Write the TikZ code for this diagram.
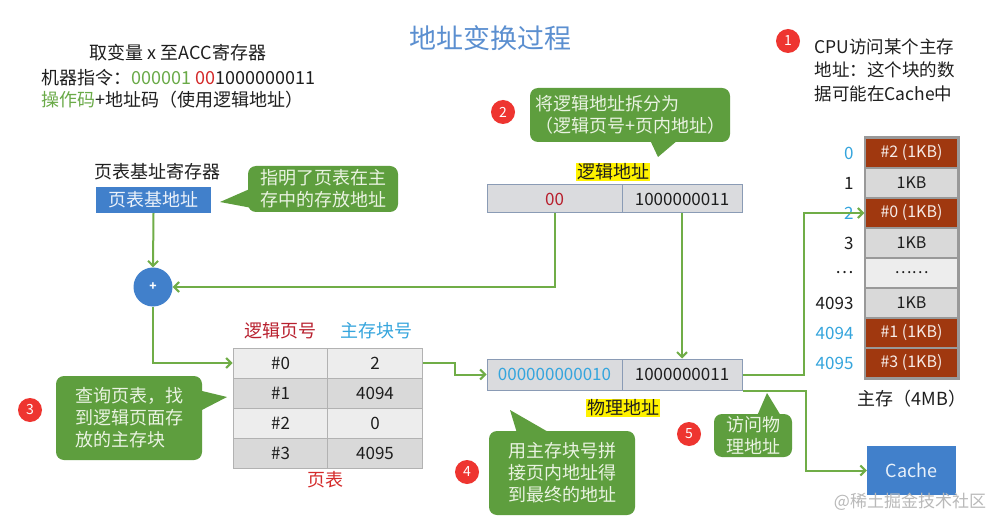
\documentclass[tikz,border=0pt]{standalone}
\usepackage{fontspec}
\setmainfont{Noto Sans CJK SC}
\usetikzlibrary{arrows.meta,positioning}

\definecolor{ttlblue}{HTML}{5B8FD0}
\definecolor{boxblue}{HTML}{4180CB}
\definecolor{lngreen}{HTML}{70AD47}
\definecolor{txgreen}{HTML}{6AAA48}
\definecolor{callgreen}{HTML}{5E9E3E}
\definecolor{calltext}{HTML}{EAF3E2}
\definecolor{numred}{HTML}{D42A2A}
\definecolor{darkred}{HTML}{B8202E}
\definecolor{numblue}{HTML}{35A5DD}
\definecolor{memred}{HTML}{A0380F}
\definecolor{cellgray}{HTML}{D9D9D9}
\definecolor{celllight}{HTML}{EDEDED}
\definecolor{addrgray}{HTML}{DADBDE}
\definecolor{addrline}{HTML}{8A9BB5}
\definecolor{stepred}{HTML}{EE3530}
\definecolor{txtblack}{HTML}{1E1E1E}

\begin{document}
\begin{tikzpicture}[
        x=1pt, y=-1pt,
        every node/.style={text=txtblack, font=\fontsize{18}{22}\selectfont},
        arr/.style={draw=lngreen, line width=2pt, -{Straight Barb[length=5pt,width=10pt]}},
        callbox/.style={fill=callgreen, rounded corners=8pt, text=calltext, align=left, inner sep=0pt},
        stepdot/.style={circle, fill=stepred, text=white, minimum size=24pt, inner sep=0pt, font=\fontsize{14}{14}\selectfont},
        addrcell/.style={draw=addrline, fill=addrgray, line width=1pt, minimum height=28pt, inner sep=0pt, font=\fontsize{17}{17}\selectfont},
        ptcell/.style={draw=gray!60, line width=1pt, minimum width=95pt, minimum height=30pt, inner sep=0pt, font=\fontsize{17}{17}\selectfont},
        memcell/.style={draw=gray!80, line width=1.5pt, minimum width=93pt, minimum height=30pt, inner sep=0pt, font=\fontsize{16}{16}\selectfont},
        hilite/.style={fill=yellow, inner sep=1pt}
    ]
    \fill[white] (0,0) rectangle (1008,529);
    \useasboundingbox (0,0) rectangle (1008,529);

    \node[text=ttlblue, font=\fontsize{27}{27}\selectfont] (title) at (490,38) {地址变换过程};

    % instruction
    \node (instr) at (178,53) {取变量 x 至ACC寄存器};
    \node[anchor=west] (code) at (38,78) {机器指令：\textcolor{txgreen}{000001} \textcolor{numred}{00}1000000011};
    \node[anchor=west] (opnote) at (38,100) {\textcolor{txgreen}{操作码}+地址码（使用逻辑地址）};

    \node[stepdot] (s1) at (788,41) {1};
    \node[stepdot] (s2) at (503,112) {2};
    \node[stepdot] (s3) at (30,410) {3};
    \node[stepdot] (s4) at (467,472) {4};
    \node[stepdot] (s5) at (689,434) {5};

    \node[anchor=west, align=left, font=\fontsize{17.5}{23.5}\selectfont] (cpunote) at (811,70) {CPU访问某个主存\\地址：这个块的数\\据可能在Cache中};

    % logical address
    \node[callbox, minimum width=200pt, minimum height=54pt] (splitnote) at (630,115) {将逻辑地址拆分为\\（逻辑页号+页内地址）};
    \fill[callgreen] (650,140) -- (658,157) -- (678,140) -- cycle;
    \node[hilite] (lalabel) at (613,172) {逻辑地址};
    \node[addrcell, minimum width=135pt, text=darkred] (laL) at (554.5,199) {00};
    \node[addrcell, minimum width=120pt] (laR) at (682,199) {1000000011};

    % page table base register
    \node (ptbrlabel) at (157,172) {页表基址寄存器};
    \node[fill=boxblue, text=white!90!boxblue, minimum width=115pt, minimum height=26pt, inner sep=0pt] (ptbr) at (153.5,200) {页表基地址};
    \node[callbox, minimum width=150pt, minimum height=46pt] (basenote) at (323,189) {指明了页表在主\\存中的存放地址};
    \fill[callgreen] (252,188) -- (220,202) -- (252,208) -- cycle;
    \node[circle, fill=boxblue, minimum size=39pt, inner sep=0pt, text=white, font=\fontsize{12}{12}\selectfont\bfseries] (plus) at (153,287) {+};

    % page table
    \node[text=darkred] (pthead1) at (280,331) {逻辑页号};
    \node[text=numblue] (pthead2) at (376,331) {主存块号};
    \foreach \pg/\fr/\fl [count=\i from 0] in {0/2/celllight, 1/4094/cellgray, 2/0/celllight, 3/4095/cellgray} {
        \node[ptcell, fill=\fl] (ptL\i) at (280.5,{363+30*\i}) {\#\pg};
        \node[ptcell, fill=\fl] (ptR\i) at (375,{363+30*\i}) {\fr};
    }
    \node[text=numred] (ptcaption) at (325,480) {页表};
    \node[callbox, minimum width=146pt, minimum height=84pt] (lookupnote) at (129,418) {查询页表，找\\到逻辑页面存\\放的主存块};
    \fill[callgreen] (198,390) -- (227,397) -- (198,412) -- cycle;

    % physical address
    \node[addrcell, minimum width=135pt, minimum height=31pt, text=numblue] (paL) at (554.5,374.5) {000000000010};
    \node[addrcell, minimum width=120pt, minimum height=31pt] (paR) at (682,374.5) {1000000011};
    \node[hilite] (palabel) at (623,408) {物理地址};
    \node[callbox, minimum width=146pt, minimum height=84pt] (joinnote) at (562,473) {用主存块号拼\\接页内地址得\\到最终的地址};
    \fill[callgreen] (517,433) -- (510,410) -- (550,433) -- cycle;
    \node[callbox, minimum width=78pt, minimum height=43pt] (accessnote) at (753,435.5) {访问物\\理地址};
    \fill[callgreen] (757,416) -- (767,393) -- (781,416) -- cycle;

    % main memory
    \foreach \lab/\col/\txt/\fl/\tc [count=\i from 0] in {
            0/numblue/\#2 (1KB)/memred/white!90!memred,
            1/txtblack/1KB/cellgray/txtblack,
            2/numblue/\#0 (1KB)/memred/white!90!memred,
            3/txtblack/1KB/cellgray/txtblack,
            …/txtblack/……/celllight/txtblack,
            4093/txtblack/1KB/cellgray/txtblack,
            4094/numblue/\#1 (1KB)/memred/white!90!memred,
            4095/numblue/\#3 (1KB)/memred/white!90!memred} {
        \node[memcell, fill=\fl, text=\tc] (mem\i) at (911.5,{153+30*\i}) {\txt};
        \node[anchor=east, text=\col, font=\fontsize{17}{17}\selectfont] (addr\i) at (857,{153+30*\i}) {\lab};
    }
    \draw[gray!80, line width=1.5pt] (mem0.north west) rectangle (mem7.south east);
    \node (memcaption) at (912,399) {主存（4MB）};
    \node[fill=boxblue, text=white!88!boxblue, minimum width=89pt, minimum height=49pt, inner sep=0pt] (cache) at (911.5,470.5) {Cache};

    % connectors
    \coordinate (tapA) at (455,370);
    \coordinate (tapB) at (804,300);
    \coordinate (tapC) at (806,430);
    \draw[arr] (ptbr.south) -- (plus.north);
    \draw[arr] (laL.south) |- (plus.east);
    \draw[arr] (plus.south) |- (ptL0.west);
    \draw[arr] (ptR0.east) -| (tapA) |- (paL.west);
    \draw[arr] (laR.south) -- (paR.north);
    \draw[arr] (paR.east) -| (tapB) |- (mem2.west);
    \draw[arr] (paR.south east) -| (tapC) |- (cache.west);

    \node[text=gray!55, font=\fontsize{17}{17}\selectfont] (mark) at (910,502) {@稀土掘金技术社区};
\end{tikzpicture}
\end{document}
